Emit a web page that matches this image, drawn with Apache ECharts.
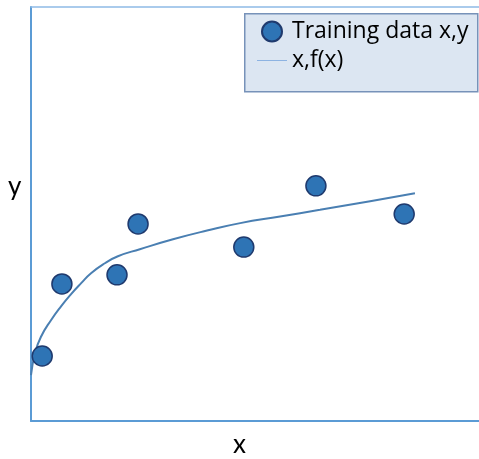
<!DOCTYPE html>
<html>
<head>
<meta charset="utf-8">
<script src="https://cdn.jsdelivr.net/npm/echarts@6/dist/echarts.min.js"></script>
<style>
  html, body { margin: 0; padding: 0; background: #fff; }
  #main { width: 479px; height: 459px; }
</style>
</head>
<body>
<div id="main"></div>
<script>
// training points (x, y)
var trainX = [0.25, 0.69, 1.92, 2.39, 4.75, 6.36, 8.33];
var trainY = [1.57, 3.31, 3.53, 4.76, 4.20, 5.68, 5.00];

// fitted curve f(x)
var fitX = [0.00, 0.09, 0.22, 0.45, 0.67, 0.89, 1.12, 1.34, 1.65, 1.94, 2.43, 3.17, 3.93, 4.67, 5.56, 6.45, 7.57, 8.57];
var fitY = [1.11, 1.64, 2.03, 2.44, 2.77, 3.06, 3.33, 3.57, 3.81, 3.98, 4.15, 4.39, 4.60, 4.78, 4.94, 5.10, 5.31, 5.50];

var seriesNames = ['Training data x,y', 'x,f(x)'];

function pairs(xs, ys) {
    var out = [];
    for (var i = 0; i < xs.length; i++) out.push([xs[i], ys[i]]);
    return out;
}

var chart = echarts.init(document.getElementById('main'));

var option = {
    animation: false,
    grid: { left: 31, right: 0, top: 7, bottom: 38 },
    xAxis: [
        {
            type: 'value', min: 0, max: 10,
            axisLine: { show: true, lineStyle: { color: '#5b9bd5', width: 2 } },
            axisTick: { show: false }, axisLabel: { show: false }, splitLine: { show: false }
        },
        {
            type: 'value', position: 'top', min: 0, max: 10,
            axisLine: { show: true, lineStyle: { color: '#8fbbe6', width: 1.5 } },
            axisTick: { show: false }, axisLabel: { show: false }, splitLine: { show: false }
        }
    ],
    yAxis: {
        type: 'value', min: 0, max: 10,
        axisLine: { show: true, lineStyle: { color: '#5b9bd5', width: 2 } },
        axisTick: { show: false }, axisLabel: { show: false }, splitLine: { show: false }
    },
    graphic: [
        {
            type: 'rect', left: 244, top: 13, z: 0,
            shape: { width: 233, height: 78 },
            style: { fill: '#dce6f2', stroke: '#7792b9', lineWidth: 1.5 }
        },
        {
            type: 'text', left: 8, top: 174,
            style: { text: 'y', fontSize: 26, fontFamily: 'Lato', fill: '#000' }
        },
        {
            type: 'text', left: 233, top: 432,
            style: { text: 'x', fontSize: 26, fontFamily: 'Lato', fill: '#000' }
        }
    ],
    legend: {
        orient: 'vertical', left: 252, top: 15, z: 10,
        itemWidth: 30, itemHeight: 20, itemGap: 6,
        textStyle: { fontSize: 23, fontFamily: 'Open Sans', color: '#000' },
        data: [
            { name: seriesNames[0] },
            {
                name: seriesNames[1],
                icon: 'path://M0,0 L30,0 L30,1 L0,1 Z',
                itemStyle: { color: '#8db3e2' }
            }
        ]
    },
    series: [
        {
            name: seriesNames[1], type: 'line', smooth: true, symbol: 'none',
            itemStyle: { color: '#4a7fb2' },
            lineStyle: { color: '#4a7fb2', width: 2 },
            data: pairs(fitX, fitY), z: 2
        },
        {
            name: seriesNames[0], type: 'scatter', symbolSize: 20,
            itemStyle: { color: '#2e74b5', borderColor: '#1f3a6e', borderWidth: 1.5, opacity: 1 },
            data: pairs(trainX, trainY), z: 3
        }
    ]
};

chart.setOption(option);
</script>
</body>
</html>
